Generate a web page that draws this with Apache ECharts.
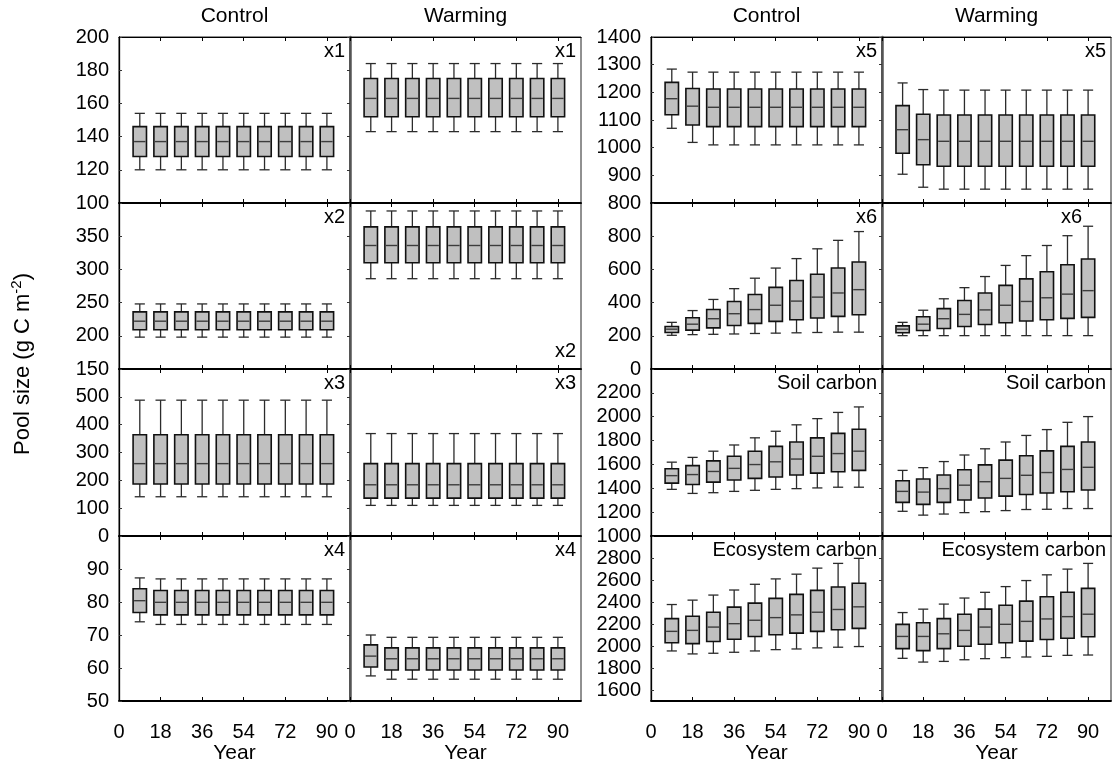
<!DOCTYPE html>
<html>
<head>
<meta charset="utf-8">
<script src="https://cdn.jsdelivr.net/npm/echarts@6/dist/echarts.min.js"></script>
<style>
  html, body { margin: 0; padding: 0; background: #fff; }
  #chart { width: 1115px; height: 765px; }
</style>
</head>
<body>
<div id="chart"></div>
<script>
// Simulation years at which each pool is summarised
const years = [9, 18, 27, 36, 45, 54, 63, 72, 81, 90];
const yearTicks = [0, 18, 36, 54, 72, 90];

// Each row: [lower whisker, Q1, median, Q3, upper whisker]
const x1Control = [
  [120, 128, 137, 146, 154], [120, 128, 137, 146, 154], [120, 128, 137, 146, 154],
  [120, 128, 137, 146, 154], [120, 128, 137, 146, 154], [120, 128, 137, 146, 154],
  [120, 128, 137, 146, 154], [120, 128, 137, 146, 154], [120, 128, 137, 146, 154],
  [120, 128, 137, 146, 154]
];
const x1Warming = [
  [143, 152, 163, 175, 184], [143, 152, 163, 175, 184], [143, 152, 163, 175, 184],
  [143, 152, 163, 175, 184], [143, 152, 163, 175, 184], [143, 152, 163, 175, 184],
  [143, 152, 163, 175, 184], [143, 152, 163, 175, 184], [143, 152, 163, 175, 184],
  [143, 152, 163, 175, 184]
];
const x2Control = [
  [198, 209, 222, 236, 248], [198, 209, 222, 236, 248], [198, 209, 222, 236, 248],
  [198, 209, 222, 236, 248], [198, 209, 222, 236, 248], [198, 209, 222, 236, 248],
  [198, 209, 222, 236, 248], [198, 209, 222, 236, 248], [198, 209, 222, 236, 248],
  [198, 209, 222, 236, 248]
];
const x2Warming = [
  [286, 310, 336, 364, 388], [286, 310, 336, 364, 388], [286, 310, 336, 364, 388],
  [286, 310, 336, 364, 388], [286, 310, 336, 364, 388], [286, 310, 336, 364, 388],
  [286, 310, 336, 364, 388], [286, 310, 336, 364, 388], [286, 310, 336, 364, 388],
  [286, 310, 336, 364, 388]
];
const x3Control = [
  [141, 187, 260, 364, 488], [141, 187, 260, 364, 488], [141, 187, 260, 364, 488],
  [141, 187, 260, 364, 488], [141, 187, 260, 364, 488], [141, 187, 260, 364, 488],
  [141, 187, 260, 364, 488], [141, 187, 260, 364, 488], [141, 187, 260, 364, 488],
  [141, 187, 260, 364, 488]
];
const x3Warming = [
  [110, 136, 184, 260, 368], [110, 136, 184, 260, 368], [110, 136, 184, 260, 368],
  [110, 136, 184, 260, 368], [110, 136, 184, 260, 368], [110, 136, 184, 260, 368],
  [110, 136, 184, 260, 368], [110, 136, 184, 260, 368], [110, 136, 184, 260, 368],
  [110, 136, 184, 260, 368]
];
const x4Control = [
  [74.0, 76.8, 80.4, 84.0, 87.3], [73.2, 76.1, 79.9, 83.5, 87.0], [73.2, 76.1, 79.9, 83.5, 87.0],
  [73.2, 76.1, 79.9, 83.5, 87.0], [73.2, 76.1, 79.9, 83.5, 87.0], [73.2, 76.1, 79.9, 83.5, 87.0],
  [73.2, 76.1, 79.9, 83.5, 87.0], [73.2, 76.1, 79.9, 83.5, 87.0], [73.2, 76.1, 79.9, 83.5, 87.0],
  [73.2, 76.1, 79.9, 83.5, 87.0]
];
const x4Warming = [
  [57.6, 60.3, 63.6, 67.0, 70.0], [56.6, 59.4, 62.8, 66.1, 69.3], [56.6, 59.4, 62.8, 66.1, 69.3],
  [56.6, 59.4, 62.8, 66.1, 69.3], [56.6, 59.4, 62.8, 66.1, 69.3], [56.6, 59.4, 62.8, 66.1, 69.3],
  [56.6, 59.4, 62.8, 66.1, 69.3], [56.6, 59.4, 62.8, 66.1, 69.3], [56.6, 59.4, 62.8, 66.1, 69.3],
  [56.6, 59.4, 62.8, 66.1, 69.3]
];
const x5Control = [
  [1070, 1119, 1177, 1236, 1284], [1019, 1082, 1150, 1214, 1273], [1010, 1076, 1146, 1212, 1273],
  [1010, 1076, 1146, 1212, 1273], [1010, 1076, 1146, 1212, 1273], [1010, 1076, 1146, 1212, 1273],
  [1010, 1076, 1146, 1212, 1273], [1010, 1076, 1146, 1212, 1273], [1010, 1076, 1146, 1212, 1273],
  [1010, 1076, 1146, 1212, 1273]
];
const x5Warming = [
  [904, 980, 1065, 1152, 1234], [857, 938, 1029, 1121, 1210], [850, 933, 1023, 1118, 1208],
  [850, 933, 1023, 1118, 1208], [850, 933, 1023, 1118, 1208], [850, 933, 1023, 1118, 1208],
  [850, 933, 1023, 1118, 1208], [850, 933, 1023, 1118, 1208], [850, 933, 1023, 1118, 1208],
  [850, 933, 1023, 1118, 1208]
];
const x6Control = [
  [203, 220, 240, 256, 281], [207, 234, 270, 309, 352], [209, 248, 303, 358, 419],
  [211, 262, 333, 407, 484], [214, 275, 358, 449, 547], [216, 287, 384, 492, 608],
  [218, 297, 409, 533, 665], [220, 307, 433, 571, 724], [222, 317, 458, 608, 775],
  [222, 327, 478, 645, 828]
];
const x6Warming = [
  [201, 218, 240, 260, 281], [201, 232, 270, 315, 354], [201, 244, 303, 364, 423],
  [201, 256, 329, 413, 490], [201, 268, 356, 458, 557], [201, 279, 384, 504, 624],
  [201, 289, 407, 543, 683], [201, 297, 429, 586, 744], [201, 305, 451, 628, 803],
  [201, 311, 472, 663, 860]
];
const soilControl = [
  [1391, 1443, 1506, 1564, 1619], [1357, 1432, 1515, 1590, 1659], [1363, 1452, 1541, 1630, 1711],
  [1374, 1469, 1567, 1668, 1763], [1383, 1483, 1599, 1711, 1823], [1391, 1495, 1622, 1751, 1878],
  [1397, 1512, 1645, 1788, 1932], [1403, 1527, 1668, 1823, 1984], [1409, 1538, 1691, 1860, 2036],
  [1409, 1550, 1711, 1895, 2082]
];
const soilWarming = [
  [1207, 1282, 1374, 1463, 1550], [1175, 1265, 1368, 1478, 1573], [1184, 1282, 1397, 1512, 1624],
  [1196, 1302, 1426, 1555, 1679], [1204, 1319, 1455, 1596, 1731], [1213, 1334, 1483, 1636, 1788],
  [1222, 1348, 1509, 1673, 1843], [1224, 1360, 1532, 1714, 1892], [1230, 1371, 1558, 1751, 1953],
  [1230, 1386, 1576, 1788, 2001]
];
const ecoControl = [
  [1955, 2029, 2133, 2249, 2377], [1928, 2022, 2142, 2270, 2417], [1934, 2041, 2172, 2307, 2463],
  [1943, 2062, 2203, 2353, 2509], [1955, 2087, 2234, 2390, 2561], [1967, 2102, 2258, 2433, 2610],
  [1973, 2117, 2283, 2469, 2653], [1983, 2133, 2307, 2506, 2708], [1989, 2148, 2332, 2537, 2751],
  [1995, 2160, 2356, 2570, 2797]
];
const ecoWarming = [
  [1888, 1976, 2087, 2197, 2304], [1854, 1958, 2087, 2212, 2335], [1860, 1976, 2111, 2249, 2381],
  [1875, 1998, 2142, 2289, 2436], [1885, 2016, 2172, 2335, 2488], [1894, 2029, 2197, 2371, 2540],
  [1900, 2044, 2224, 2408, 2595], [1906, 2059, 2246, 2448, 2647], [1915, 2071, 2267, 2488, 2699],
  [1918, 2084, 2289, 2524, 2751]
];

// Value axis extents and labelled ticks, per row of each block
const leftRange = [[100, 200], [150, 400], [0, 600], [50, 100]];
const rightRange = [[800, 1400], [0, 1000], [1000, 2400], [1500, 3000]];
const leftYTicks = [
  [100, 120, 140, 160, 180, 200],
  [150, 200, 250, 300, 350],
  [0, 100, 200, 300, 400, 500],
  [50, 60, 70, 80, 90]
];
const rightYTicks = [
  [800, 900, 1000, 1100, 1200, 1300, 1400],
  [0, 200, 400, 600, 800],
  [1000, 1200, 1400, 1600, 1800, 2000, 2200],
  [1600, 1800, 2000, 2200, 2400, 2600, 2800]
];

const columnTitles = ['Control', 'Warming', 'Control', 'Warming'];

// ---- layout ----
const FONT = 'Liberation Sans, Arial, sans-serif';
const PANEL_LEFT = [119, 350, 651, 882];
const PANEL_W = [231, 231, 231, 229];
const ROW_TOP = [37, 203, 369, 536];
const ROW_H = [166, 166, 167, 165];
const BOX_WIDTH = 5.8;   // in years
const CAP_WIDTH = 4.4;

const panels = [
  { row: 0, col: 0, data: x1Control, tag: 'x1', pos: 'top' },
  { row: 0, col: 1, data: x1Warming, tag: 'x1', pos: 'top' },
  { row: 1, col: 0, data: x2Control, tag: 'x2', pos: 'top' },
  { row: 1, col: 1, data: x2Warming, tag: 'x2', pos: 'bottom' },
  { row: 2, col: 0, data: x3Control, tag: 'x3', pos: 'top' },
  { row: 2, col: 1, data: x3Warming, tag: 'x3', pos: 'top' },
  { row: 3, col: 0, data: x4Control, tag: 'x4', pos: 'top' },
  { row: 3, col: 1, data: x4Warming, tag: 'x4', pos: 'top' },
  { row: 0, col: 2, data: x5Control, tag: 'x5', pos: 'top' },
  { row: 0, col: 3, data: x5Warming, tag: 'x5', pos: 'top' },
  { row: 1, col: 2, data: x6Control, tag: 'x6', pos: 'top' },
  { row: 1, col: 3, data: x6Warming, tag: 'x6', pos: 'top', inset: 24 },
  { row: 2, col: 2, data: soilControl, tag: 'Soil carbon', pos: 'top' },
  { row: 2, col: 3, data: soilWarming, tag: 'Soil carbon', pos: 'top' },
  { row: 3, col: 2, data: ecoControl, tag: 'Ecosystem carbon', pos: 'top' },
  { row: 3, col: 3, data: ecoWarming, tag: 'Ecosystem carbon', pos: 'top' }
];

function drawBox(params, api) {
  const x = api.value(0);
  const lo = api.coord([x, api.value(1)]);
  const q1 = api.coord([x, api.value(2)]);
  const md = api.coord([x, api.value(3)]);
  const q3 = api.coord([x, api.value(4)]);
  const hi = api.coord([x, api.value(5)]);
  const bw = api.size([BOX_WIDTH, 0])[0];
  const cw = api.size([CAP_WIDTH, 0])[0];
  const cx = md[0];
  const whisker = { stroke: '#2b2b2b', lineWidth: 1.3 };
  return {
    type: 'group',
    children: [
      { type: 'line', shape: { x1: cx, y1: hi[1], x2: cx, y2: q3[1] }, style: whisker },
      { type: 'line', shape: { x1: cx, y1: q1[1], x2: cx, y2: lo[1] }, style: whisker },
      { type: 'line', shape: { x1: cx - cw / 2, y1: hi[1], x2: cx + cw / 2, y2: hi[1] }, style: whisker },
      { type: 'line', shape: { x1: cx - cw / 2, y1: lo[1], x2: cx + cw / 2, y2: lo[1] }, style: whisker },
      { type: 'rect', shape: { x: cx - bw / 2, y: q3[1], width: bw, height: q1[1] - q3[1] },
        style: { fill: '#c0c0c0', stroke: '#111', lineWidth: 1.6 } },
      { type: 'line', shape: { x1: cx - bw / 2 + 1, y1: md[1], x2: cx + bw / 2 - 1, y2: md[1] },
        style: { stroke: '#3c3c3c', lineWidth: 1.4 } }
    ]
  };
}

const plainNumber = v => String(v);
const grids = [], xAxes = [], yAxes = [], series = [], graphics = [];

panels.forEach((p, i) => {
  const rightBlock = p.col >= 2;
  const isControl = p.col % 2 === 0;
  const range = rightBlock ? rightRange[p.row] : leftRange[p.row];
  const yTicks = rightBlock ? rightYTicks[p.row] : leftYTicks[p.row];
  const bottomRow = p.row === 3;

  grids.push({
    left: PANEL_LEFT[p.col], top: ROW_TOP[p.row],
    width: PANEL_W[p.col], height: ROW_H[p.row],
    show: true, borderColor: '#222', borderWidth: 1, backgroundColor: 'transparent'
  });

  xAxes.push({
    gridIndex: i, type: 'value', position: 'bottom', min: 0, max: 100,
    axisLine: { show: true, onZero: false, lineStyle: { color: '#000', width: 1.8 } },
    axisTick: { show: true, inside: true, length: 4, customValues: yearTicks, lineStyle: { color: '#000' } },
    axisLabel: { show: bottomRow, customValues: yearTicks, formatter: plainNumber,
      margin: 21, fontSize: 20, color: '#000', fontFamily: FONT },
    splitLine: { show: false },
    name: bottomRow ? 'Year' : '', nameLocation: 'middle', nameGap: 40,
    nameTextStyle: { fontSize: 21, color: '#000', fontFamily: FONT }
  });
  xAxes.push({
    gridIndex: i, type: 'value', position: 'top', min: 0, max: 100,
    axisLine: { show: true, onZero: false, lineStyle: { color: '#000', width: 1.2 } },
    axisTick: { show: true, inside: true, length: 4, customValues: yearTicks, lineStyle: { color: '#000' } },
    axisLabel: { show: false }, splitLine: { show: false }
  });

  yAxes.push({
    gridIndex: i, type: 'value', position: 'left', min: range[0], max: range[1],
    axisLine: { show: true, onZero: false,
      lineStyle: { color: isControl ? '#000' : '#555', width: isControl ? 1.3 : 2.5 } },
    axisTick: { show: true, inside: isControl, length: 3, customValues: yTicks, lineStyle: { color: '#333' } },
    axisLabel: { show: isControl, customValues: yTicks, formatter: plainNumber,
      margin: 10, fontSize: 20, color: '#000', fontFamily: FONT },
    splitLine: { show: false }
  });

  series.push({
    type: 'custom', xAxisIndex: 2 * i, yAxisIndex: i, silent: true,
    renderItem: drawBox,
    encode: { x: 0, y: [1, 2, 3, 4, 5] },
    data: years.map((yr, k) => [yr].concat(p.data[k]))
  });

  const right = PANEL_LEFT[p.col] + PANEL_W[p.col] - 5 - (p.inset || 0);
  const ty = p.pos === 'top' ? ROW_TOP[p.row] + 14 : ROW_TOP[p.row] + ROW_H[p.row] - 18;
  graphics.push({
    type: 'text', x: right, y: ty, silent: true,
    style: { text: p.tag, fontSize: 20, fontFamily: FONT, fill: '#000', textAlign: 'right', textVerticalAlign: 'middle' }
  });
});

columnTitles.forEach((t, c) => {
  graphics.push({
    type: 'text', x: PANEL_LEFT[c] + PANEL_W[c] / 2, y: 16, silent: true,
    style: { text: t, fontSize: 21, fontFamily: FONT, fill: '#000', textAlign: 'center', textVerticalAlign: 'middle' }
  });
});

graphics.push({
  type: 'text', x: 23, y: 364, rotation: Math.PI / 2, silent: true,
  style: {
    text: '{a|Pool size (g C m}{s|-2}{a|)}',
    textAlign: 'center', textVerticalAlign: 'middle',
    rich: {
      a: { fontSize: 22, fontFamily: FONT, fill: '#000', lineHeight: 28 },
      s: { fontSize: 15, fontFamily: FONT, fill: '#000', lineHeight: 17, verticalAlign: 'top' }
    }
  }
});

const chart = echarts.init(document.getElementById('chart'), null, { renderer: 'canvas' });
chart.setOption({
  animation: false,
  backgroundColor: '#fff',
  grid: grids,
  xAxis: xAxes,
  yAxis: yAxes,
  series: series,
  graphic: graphics
});
</script>
</body>
</html>
